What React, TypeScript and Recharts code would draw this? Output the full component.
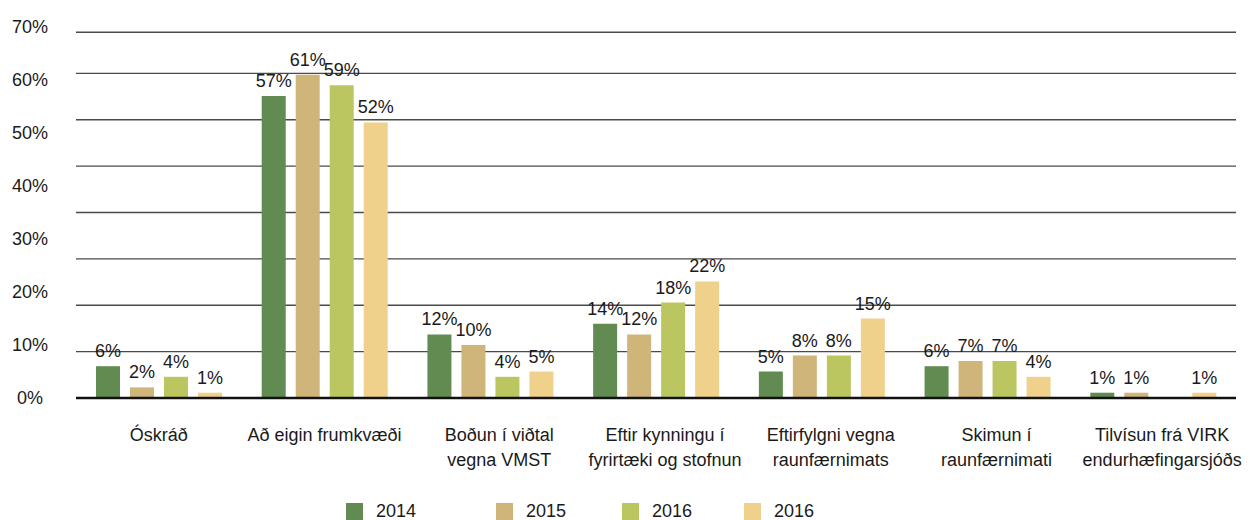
// ─── Grouped bar chart: leiðir inn í ráðgjöf 2014–2016 ───────────────────────
import React from 'react';
import {
  BarChart,
  Bar,
  XAxis,
  YAxis,
  CartesianGrid,
  Legend,
  LabelList,
} from 'recharts';

const categories = [
  'Óskráð',
  'Að eigin frumkvæði',
  'Boðun í viðtal|vegna VMST',
  'Eftir kynningu í|fyrirtæki og stofnun',
  'Eftirfylgni vegna|raunfærnimats',
  'Skimun í|raunfærnimati',
  'Tilvísun frá VIRK|endurhæfingarsjóðs',
];

const y2014 = [6, 57, 12, 14, 5, 6, 1];
const y2015 = [2, 61, 10, 12, 8, 7, 1];
const y2016 = [4, 59, 4, 18, 8, 7, 0];
const y2016b = [1, 52, 5, 22, 15, 4, 1];

const Y_MAX = 70;
const yTicks = [0, 10, 20, 30, 40, 50, 60, 70];
// gridlines in the original sit on eight equal steps, not on the labels
const gridTicks = [8.75, 17.5, 26.25, 35, 43.75, 52.5, 61.25, 69];

const series = [
  { key: 's2014', name: '2014', color: '#618b50' },
  { key: 's2015', name: '2015', color: '#cfb57a' },
  { key: 's2016', name: '2016', color: '#bbc660' },
  { key: 's2016b', name: '2016', color: '#f0d18c' },
];

const data = categories.map((c, i) => ({
  cat: c,
  s2014: y2014[i],
  s2015: y2015[i],
  s2016: y2016[i],
  s2016b: y2016b[i],
}));

const FONT = "'Liberation Sans', Arial, sans-serif";

const YTick = (props: any) => {
  const { y, payload } = props;
  return (
    <text x={30} y={y} dy={6} textAnchor="middle" fontSize={18} fontFamily={FONT} fill="#1a1a1a">
      {payload.value}%
    </text>
  );
};

const XTick = (props: any) => {
  const { x, y, payload } = props;
  const lines = String(payload.value).split('|');
  return (
    <g transform={`translate(${x},${y})`}>
      {lines.map((l, i) => (
        <text
          key={i}
          x={lines.length > 1 ? 9 : 0}
          y={0}
          dy={35 + i * 25}
          textAnchor="middle"
          fontSize={18}
          fontFamily={FONT}
          fill="#1a1a1a"
        >
          {l}
        </text>
      ))}
    </g>
  );
};

const gridY = (props: any) => {
  const { yAxis, offset } = props || {};
  if (yAxis && typeof yAxis.scale === 'function') return gridTicks.map((t) => yAxis.scale(t));
  const top = offset?.top ?? 27;
  const h = offset?.height ?? 371;
  return gridTicks.map((t) => top + h * (1 - t / Y_MAX));
};

const legendGaps = [150, 126, 122, 0];

const LegendContent = () => (
  <div style={{ display: 'flex', height: 17, alignItems: 'center', paddingLeft: 346, paddingTop: 3, fontFamily: FONT, fontSize: 18, color: '#1a1a1a' }}>
    {series.map((s, i) => (
      <div key={i} style={{ display: 'flex', alignItems: 'center', width: legendGaps[i] || undefined }}>
        <span style={{ display: 'inline-block', width: 17, height: 17, background: s.color, marginRight: 13 }} />
        <span>{s.name}</span>
      </div>
    ))}
  </div>
);

const App: React.FC = () => {
  return (
    <div style={{ position: 'absolute', left: 0, top: 0, width: 1250, height: 520, background: '#fff' }}>
      <BarChart
        width={1250}
        height={520}
        data={data}
        margin={{ top: 27, right: 14, left: 0, bottom: 0 }}
        barSize={24}
        barGap={10}
      >
        <CartesianGrid
          vertical={false}
          stroke="#4a4a4a"
          strokeWidth={1.4}
          horizontalCoordinatesGenerator={gridY}
        />
        <XAxis
          dataKey="cat"
          height={102}
          interval={0}
          tick={<XTick />}
          tickLine={false}
          axisLine={{ stroke: '#111', strokeWidth: 2.5 }}
        />
        <YAxis
          width={76}
          domain={[0, Y_MAX]}
          ticks={yTicks}
          tick={<YTick />}
          axisLine={false}
          tickLine={false}
        />
        <Legend verticalAlign="bottom" content={<LegendContent />} />
        {series.map((s) => (
          <Bar key={s.key} dataKey={s.key} name={s.name} fill={s.color} isAnimationActive={false}>
            <LabelList
              dataKey={s.key}
              position="top"
              offset={9}
              fontSize={18}
              fontFamily={FONT}
              fill="#1a1a1a"
              formatter={(v: any) => (v ? `${v}%` : '')}
            />
          </Bar>
        ))}
      </BarChart>
    </div>
  );
};

export default App;
